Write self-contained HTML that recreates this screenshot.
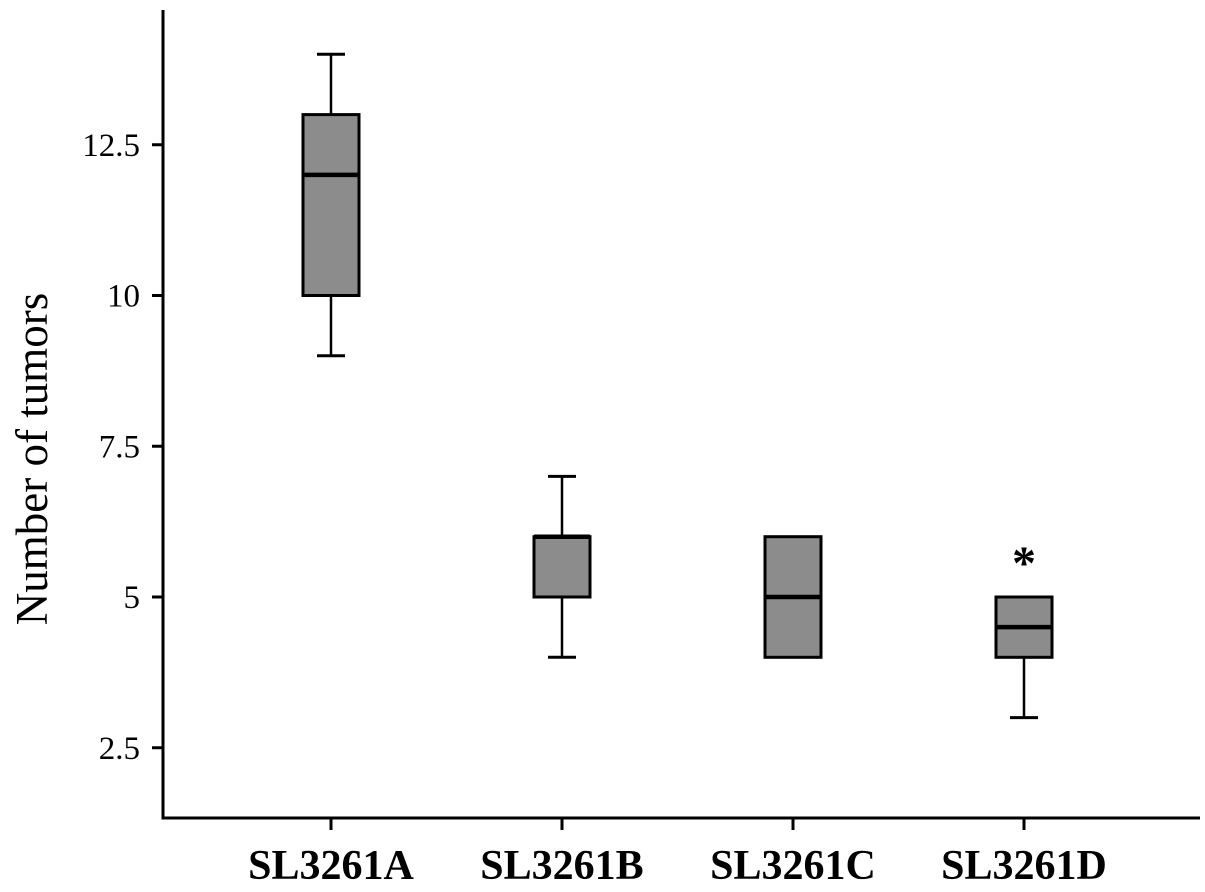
<!DOCTYPE html>
<html><head><meta charset="utf-8"><style>body{margin:0;background:#fff}svg{display:block}</style></head>
<body>
<svg id="chart" width="1205" height="892" xmlns="http://www.w3.org/2000/svg" font-family="Liberation Serif, serif">
<g id="axes"></g><g id="boxes"></g>
</svg>
<script>
const categories=["SL3261A","SL3261B","SL3261C","SL3261D"];
const whiskerLow=[9,4,4,3];
const q1=[10,5,4,4];
const medians=[12,6,5,4.5];
const q3=[13,6,6,5];
const whiskerHigh=[14,7,6,5];
const yTicks=[2.5,5,7.5,10,12.5];
const yTickLabels=["2.5","5","7.5","10","12.5"];
const NS="http://www.w3.org/2000/svg";
const y=v=>597-(v-5)*60.3;
const x=i=>331+i*231;
function mk(tag,attrs,parent,text){const e=document.createElementNS(NS,tag);for(const k in attrs)e.setAttribute(k,attrs[k]);if(text!=null)e.textContent=text;parent.appendChild(e);return e;}
const ax=document.getElementById('axes'),bx=document.getElementById('boxes');
let e=mk('line',{x1:163,y1:10,x2:163,y2:818,stroke:'#000','stroke-width':3},ax);


e=mk('line',{x1:161.5,y1:818,x2:1200,y2:818,stroke:'#000','stroke-width':3},ax);


yTicks.forEach((v,i)=>{
 let t=mk('line',{x1:152,y1:y(v),x2:163,y2:y(v),stroke:'#000','stroke-width':3},ax);
 
 
 let l=mk('text',{x:140,y:y(v)+11,'text-anchor':'end','font-size':33},ax,yTickLabels[i]);
 
 
});
e=mk('text',{x:0,y:0,transform:'translate(47,459) rotate(-90)','text-anchor':'middle','font-size':45},ax,'Number of tumors');


categories.forEach((c,i)=>{
 const cx=x(i);
 let t=mk('line',{x1:cx,y1:818,x2:cx,y2:830,stroke:'#000','stroke-width':3},ax);
 
 
 let l=mk('text',{x:cx,y:879,'text-anchor':'middle','font-size':42,'font-weight':'bold'},ax,c);
 
 
 const g=mk('g',{},bx);
 
 
 if(whiskerHigh[i]>q3[i]){mk('line',{x1:cx,y1:y(whiskerHigh[i]),x2:cx,y2:y(q3[i]),stroke:'#000','stroke-width':2.5},g);mk('line',{x1:cx-14,y1:y(whiskerHigh[i]),x2:cx+14,y2:y(whiskerHigh[i]),stroke:'#000','stroke-width':3},g);}
 if(whiskerLow[i]<q1[i]){mk('line',{x1:cx,y1:y(q1[i]),x2:cx,y2:y(whiskerLow[i]),stroke:'#000','stroke-width':2.5},g);mk('line',{x1:cx-14,y1:y(whiskerLow[i]),x2:cx+14,y2:y(whiskerLow[i]),stroke:'#000','stroke-width':3},g);}
 mk('rect',{x:cx-28,y:y(q3[i]),width:56,height:y(q1[i])-y(q3[i]),fill:'#8c8c8c',stroke:'#000','stroke-width':3},g);
 mk('line',{x1:cx-28,y1:y(medians[i]),x2:cx+28,y2:y(medians[i]),stroke:'#000','stroke-width':4.5},g);
});
e=mk('text',{x:x(3),y:y(whiskerHigh[3])-18,'text-anchor':'middle','font-size':48,'font-weight':'bold'},bx,'*');


</script>
</body></html>
